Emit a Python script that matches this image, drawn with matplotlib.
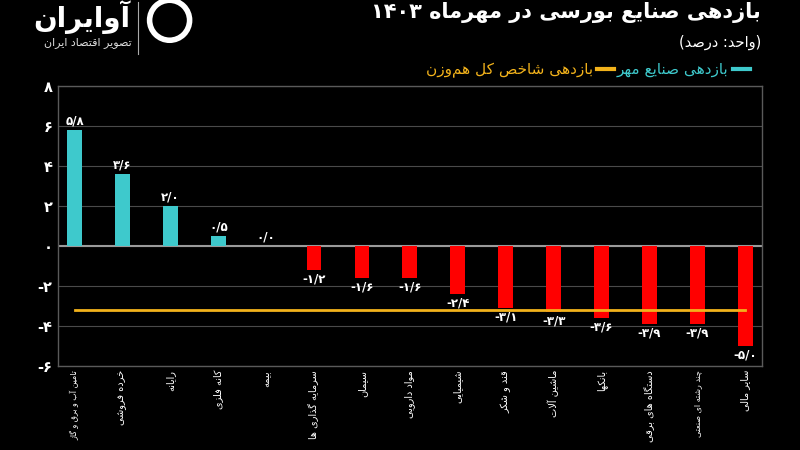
import re
import matplotlib
matplotlib.use('Agg')
import matplotlib.pyplot as plt
from matplotlib.lines import Line2D
from matplotlib.patches import Ellipse

plt.rcParams['font.family'] = ['DejaVu Sans']

# --- data -------------------------------------------------------------
categories = ['تامین آب و برق و گاز', 'خرده فروشی', 'رایانه', 'کانه فلزی', 'بیمه',
              'سرمایه گذاری ها', 'سیمان', 'مواد دارویی', 'شیمیایی', 'قند و شکر',
              'ماشین آلات', 'بانکها', 'دستگاه های برقی', 'چند رشته ای صنعتی', 'سایر مالی']
returns = [5.8, 3.6, 2.0, 0.5, 0.0, -1.2, -1.6, -1.6, -2.4, -3.1, -3.3, -3.6, -3.9, -3.9, -5.0]
index_return = -3.2
yticks = [-6, -4, -2, 0, 2, 4, 6, 8]

title = 'بازدهی صنایع بورسی در مهرماه ۱۴۰۳'
unit = '(واحد: درصد)'
label_sectors = 'بازدهی صنایع مهر'
label_index = 'بازدهی شاخص کل هم\u200cوزن'

# --- minimal arabic/persian shaping (no bidi lib available) -----------
FORMS = {
    'آ': ('\uFE81', '\uFE82'), 'ا': ('\uFE8D', '\uFE8E'), 'د': ('\uFEA9', '\uFEAA'),
    'ذ': ('\uFEAB', '\uFEAC'), 'ر': ('\uFEAD', '\uFEAE'), 'ز': ('\uFEAF', '\uFEB0'),
    'ژ': ('\uFB8A', '\uFB8B'), 'و': ('\uFEED', '\uFEEE'),
    'ب': ('\uFE8F', '\uFE90', '\uFE91', '\uFE92'), 'ت': ('\uFE95', '\uFE96', '\uFE97', '\uFE98'),
    'ث': ('\uFE99', '\uFE9A', '\uFE9B', '\uFE9C'), 'ج': ('\uFE9D', '\uFE9E', '\uFE9F', '\uFEA0'),
    'ح': ('\uFEA1', '\uFEA2', '\uFEA3', '\uFEA4'), 'خ': ('\uFEA5', '\uFEA6', '\uFEA7', '\uFEA8'),
    'س': ('\uFEB1', '\uFEB2', '\uFEB3', '\uFEB4'), 'ش': ('\uFEB5', '\uFEB6', '\uFEB7', '\uFEB8'),
    'ص': ('\uFEB9', '\uFEBA', '\uFEBB', '\uFEBC'), 'ض': ('\uFEBD', '\uFEBE', '\uFEBF', '\uFEC0'),
    'ط': ('\uFEC1', '\uFEC2', '\uFEC3', '\uFEC4'), 'ظ': ('\uFEC5', '\uFEC6', '\uFEC7', '\uFEC8'),
    'ع': ('\uFEC9', '\uFECA', '\uFECB', '\uFECC'), 'غ': ('\uFECD', '\uFECE', '\uFECF', '\uFED0'),
    'ف': ('\uFED1', '\uFED2', '\uFED3', '\uFED4'), 'ق': ('\uFED5', '\uFED6', '\uFED7', '\uFED8'),
    'ل': ('\uFEDD', '\uFEDE', '\uFEDF', '\uFEE0'), 'م': ('\uFEE1', '\uFEE2', '\uFEE3', '\uFEE4'),
    'ن': ('\uFEE5', '\uFEE6', '\uFEE7', '\uFEE8'), 'ه': ('\uFEE9', '\uFEEA', '\uFEEB', '\uFEEC'),
    'ی': ('\uFBFC', '\uFBFD', '\uFBFE', '\uFBFF'), 'ک': ('\uFB8E', '\uFB8F', '\uFB90', '\uFB91'),
    'گ': ('\uFB92', '\uFB93', '\uFB94', '\uFB95'), 'پ': ('\uFB56', '\uFB57', '\uFB58', '\uFB59'),
    'چ': ('\uFB7A', '\uFB7B', '\uFB7C', '\uFB7D'),
}
LAM_ALEF = {'ا': ('\uFEFB', '\uFEFC'), 'آ': ('\uFEF5', '\uFEF6')}
MIRROR = {'(': ')', ')': '('}


def fa(text):
    out = []
    prev_join = False
    i = 0
    while i < len(text):
        c = text[i]
        if c == 'ل' and i + 1 < len(text) and text[i + 1] in LAM_ALEF:
            lig = LAM_ALEF[text[i + 1]]
            out.append(lig[1] if prev_join else lig[0])
            prev_join = False
            i += 2
            continue
        if c in FORMS:
            f = FORMS[c]
            nxt = text[i + 1] if i + 1 < len(text) else ''
            dual = len(f) == 4
            jn = dual and nxt in FORMS
            if prev_join and jn:
                g = f[3]
            elif prev_join:
                g = f[1]
            elif jn:
                g = f[2]
            else:
                g = f[0]
            out.append(g)
            prev_join = dual
        else:
            if c != '\u200c':
                out.append(c)
            prev_join = False
        i += 1
    shaped = ''.join(out)
    runs = re.findall(r'[0-9۰-۹/.]+|[^0-9۰-۹/.]+', shaped)
    vis = []
    for r in reversed(runs):
        if re.match(r'[0-9۰-۹/.]', r):
            vis.append(r)
        else:
            vis.append(''.join(MIRROR.get(ch, ch) for ch in reversed(r)))
    return ''.join(vis)


PDIG = str.maketrans('0123456789', '۰۱۲۳۴۵۶۷۸۹')


def pnum(v, dec=True):
    s = f'{v:.1f}' if dec else f'{v:d}'
    return s.replace('.', '/').translate(PDIG)


# --- figure -----------------------------------------------------------
bg = '#000000'
teal = '#3ec9cc'
red = '#ff0000'
orange = '#f2b21b'
grid = '#4a4a4a'

fig = plt.figure(figsize=(8, 4.5), dpi=100, facecolor=bg)
ax = fig.add_axes([0.0725, 0.1873, 0.88, 0.6223], facecolor=bg)

x = list(range(len(categories)))
colors = [teal if v >= 0 else red for v in returns]
ax.bar(x, returns, width=0.31, color=colors, zorder=3)
ax.plot(x, [index_return] * len(x), color=orange, lw=2, zorder=4)

for xi, v in zip(x, returns):
    if v >= 0:
        ax.text(xi, v + 0.12, pnum(v), ha='center', va='bottom', color='white',
                fontsize=8.5, fontweight='bold', zorder=5)
    else:
        ax.text(xi, v - 0.12, pnum(v), ha='center', va='top', color='white',
                fontsize=8.5, fontweight='bold', zorder=5)

ax.set_xlim(-0.345, 14.35)
ax.set_ylim(-6, 8)
ax.set_yticks(yticks)
ax.set_yticklabels([pnum(t, dec=False) for t in yticks], color='white',
                   fontsize=10.5, fontweight='bold')
ax.yaxis.grid(True, color=grid, lw=0.8, zorder=0)
ax.axhline(0, color='#9a9a9a', lw=1.5, zorder=2)
ax.set_xticks(x)
ax.set_xticklabels([fa(c) for c in categories], rotation=90, color='white', fontsize=7)
for lbl, c in zip(ax.get_xticklabels(), categories):
    if len(c) > 15:
        lbl.set_fontsize(5.8)
ax.tick_params(axis='both', length=0, pad=4)
ax.tick_params(axis='x', pad=3)
for s in ax.spines.values():
    s.set_color('#5a5a5a')
    s.set_linewidth(1)

# --- header -------------------------------------------------------------
fig.text(0.951, 0.972, fa(title), ha='right', va='center', color='white',
         fontsize=15, fontweight='bold')
fig.text(0.951, 0.905, fa(unit), ha='right', va='center', color='white', fontsize=10.5)

handles = [Line2D([], [], color=orange, lw=3), Line2D([], [], color=teal, lw=3)]
fig.legend(handles, [fa(label_index), fa(label_sectors)], loc='center right',
           bbox_to_anchor=(0.955, 0.845), ncol=2, markerfirst=False, frameon=False,
           labelcolor='linecolor', fontsize=11, handlelength=1.1,
           handletextpad=0.3, columnspacing=0.2)

# logo
fig.text(0.163, 0.963, fa('آوایران'), ha='right', va='center', color='white',
         fontsize=20, fontweight='bold')
fig.text(0.165, 0.905, fa('تصویر اقتصاد ایران'), ha='right', va='center', color='#dddddd',
         fontsize=8)
fig.add_artist(Line2D([0.172, 0.172], [0.88, 0.995], color='#aaaaaa', lw=0.8,
                      transform=fig.transFigure))
fig.add_artist(Ellipse((0.212, 0.955), 40 / 800, 40 / 450, transform=fig.transFigure,
                       facecolor='none', edgecolor='white', lw=4))

fig.savefig('out.png', dpi=100, facecolor=bg)
